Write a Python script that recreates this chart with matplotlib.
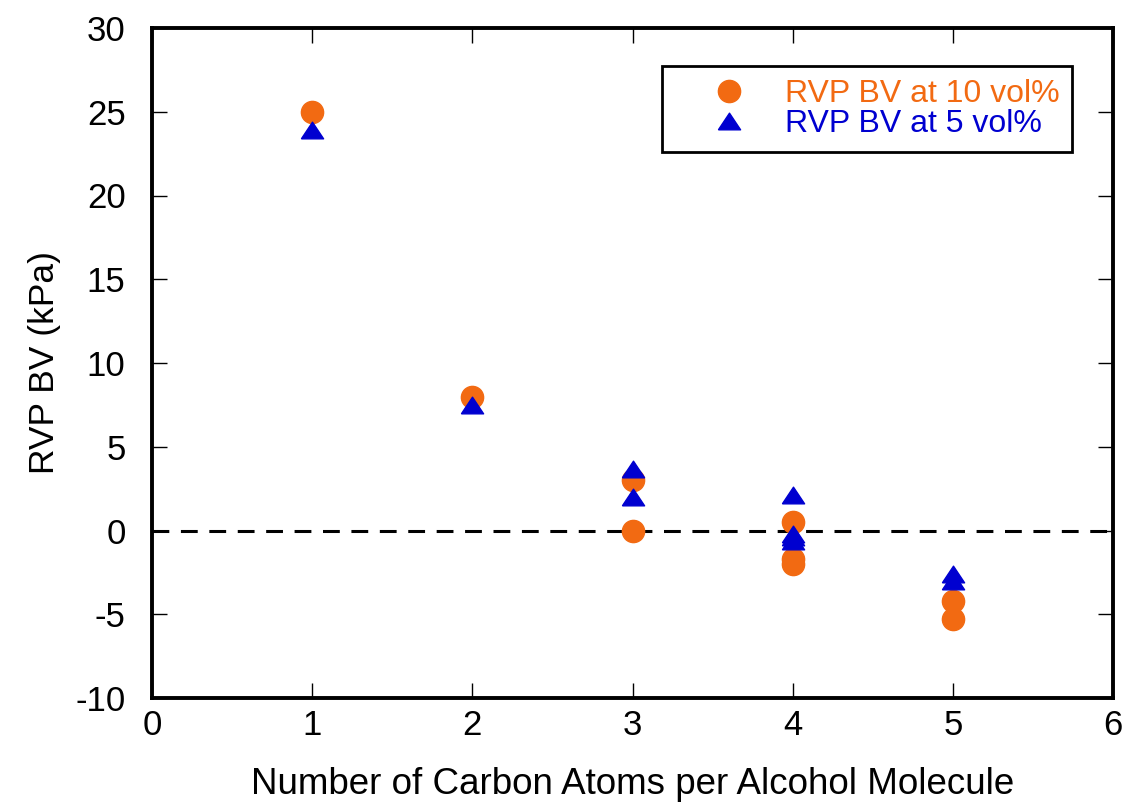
import matplotlib
matplotlib.use("Agg")
import matplotlib.pyplot as plt
from matplotlib.lines import Line2D

# RVP blending values (kPa) versus carbon count of the alcohol
carbon_10 = [1, 2, 3, 3, 4, 4, 4, 5, 5]
rvp_10 = [25.0, 8.0, 3.0, 0.0, 0.5, -1.7, -2.0, -4.2, -5.3]

carbon_5 = [1, 2, 3, 3, 4, 4, 4, 4, 5, 5]
rvp_5 = [23.9, 7.5, 3.7, 2.0, 2.1, -0.2, -0.4, -0.6, -2.6, -3.0]

label_10 = "RVP BV at 10 vol%"
label_5 = "RVP BV at 5 vol%"

ORANGE = "#F26A12"
BLUE = "#0000D0"

plt.rcParams["font.family"] = ["Liberation Sans", "DejaVu Sans"]
plt.rcParams["axes.unicode_minus"] = False

# flattened triangle marker (wider than tall)
tri = [(-1.0, -0.75), (1.0, -0.75), (0.0, 0.75), (-1.0, -0.75)]

fig = plt.figure(figsize=(11.22, 8.02), dpi=100)
ax = fig.add_axes([152 / 1122, 1 - 698 / 802, (1113 - 152) / 1122, (698 - 28) / 802])

ax.axhline(0, color="black", lw=2.2, dashes=(5.5, 3.8), zorder=1)

ax.plot(carbon_10, rvp_10, ls="none", marker="o", ms=16, color=ORANGE,
        mec=ORANGE, zorder=3, label=label_10)
ax.plot(carbon_5, rvp_5, ls="none", marker=tri, ms=16, color=BLUE,
        mec=BLUE, zorder=4, label=label_5)

ax.set_xlim(0, 6)
ax.set_ylim(-10, 30)
ax.set_xticks(range(0, 7))
ax.set_yticks(range(-10, 31, 5))

for s in ax.spines.values():
    s.set_linewidth(2.8)

ax.tick_params(which="major", direction="in", length=10.5, width=1.0,
               top=True, right=True, labelsize=25)
ax.tick_params(axis="x", pad=8)
ax.tick_params(axis="y", pad=19)

ax.set_xlabel("Number of Carbon Atoms per Alcohol Molecule", fontsize=26.5, labelpad=18)
ax.set_ylabel("RVP BV (kPa)", fontsize=25.5, labelpad=10)

handles = [
    Line2D([], [], ls="none", marker="o", ms=16, color=ORANGE, mec=ORANGE),
    Line2D([], [], ls="none", marker=tri, ms=16, color=BLUE, mec=BLUE),
]
leg = ax.legend(handles, [label_10, label_5], loc="upper right",
                bbox_to_anchor=(1072 / 1122, 1 - 66 / 802),
                bbox_transform=fig.transFigure,
                fontsize=23, frameon=True, fancybox=False,
                edgecolor="black", framealpha=1, borderpad=0.4,
                labelspacing=0.0, handlelength=3.4, handletextpad=0.05,
                borderaxespad=0)
leg.get_frame().set_linewidth(2.0)
for txt, c in zip(leg.get_texts(), [ORANGE, BLUE]):
    txt.set_color(c)

fig.savefig("out.png", dpi=100)
